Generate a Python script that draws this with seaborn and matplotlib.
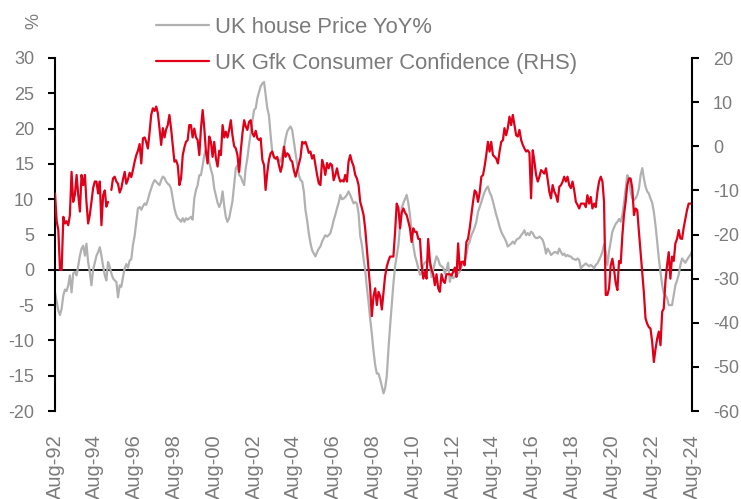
'''
UK house prices vs GfK consumer confidence, twin axis line chart
'''
import numpy as np
import pandas as pd
import seaborn as sns
import matplotlib
matplotlib.use('Agg')
import matplotlib.pyplot as plt
from matplotlib.lines import Line2D

sns.set_theme(style='white')
plt.rcParams['font.family'] = ['Liberation Sans', 'DejaVu Sans']
plt.rcParams['axes.unicode_minus'] = False

# monthly series, first value is Aug-92, one row per year (Aug..Jul)
start_month = '1992-08-01'

house_yoy = [
    -3.2, -4.5, -5.8, -6.4, -5.5, -3.6, -2.8, -3.0, -2.2, -0.8, -3.2, -0.5,
    -0.3, -0.8, 0.6, 2.0, 3.0, 3.4, 2.0, 3.7, 1.1, -0.3, -2.2, 0.0,
    1.0, 2.0, 2.5, 3.2, 2.0, 0.5, -0.8, -1.5, 1.1, 0.5, -0.5, -1.2,
    -1.5, -1.7, -3.9, -2.2, -2.4, -1.0, 0.2, 0.8, 0.3, 1.3, 1.5, 3.5,
    4.8, 6.8, 8.7, 8.9, 8.5, 9.0, 9.4, 9.2, 9.9, 10.8, 11.5, 12.2,
    12.7, 12.5, 12.2, 12.0, 12.7, 13.2, 13.0, 12.5, 12.2, 12.0, 11.5, 10.1,
    8.7, 7.8, 7.3, 7.1, 6.8, 7.3, 6.8, 7.3, 7.1, 7.3, 7.5, 7.1,
    10.1, 11.3, 12.0, 13.4, 13.4, 14.8, 16.3, 17.0, 16.3, 15.3, 14.2, 13.4,
    11.5, 10.5, 9.5, 8.9, 9.5, 11.1, 9.0, 7.5, 6.8, 7.3, 8.5, 9.7,
    12.0, 14.4, 14.8, 13.4, 13.2, 12.5, 12.0, 14.4, 15.8, 17.7, 19.3, 21.0,
    22.6, 22.9, 24.3, 25.2, 26.0, 26.4, 26.6, 24.8, 22.9, 21.9, 19.1, 16.7,
    15.8, 15.8, 15.6, 15.6, 15.3, 16.3, 17.2, 18.6, 19.6, 20.0, 20.3, 19.8,
    18.1, 16.5, 15.0, 13.4, 12.7, 12.5, 11.0, 8.5, 7.0, 5.2, 3.8, 2.8,
    2.3, 1.9, 2.5, 3.0, 3.3, 4.0, 4.5, 4.9, 4.7, 4.9, 5.2, 6.0,
    7.0, 7.8, 8.7, 9.5, 10.6, 10.0, 10.1, 10.3, 10.6, 11.1, 10.6, 10.0,
    9.4, 9.6, 9.4, 8.0, 4.8, 3.5, 1.5, 0.0, -2.5, -4.5, -7.0, -9.0,
    -11.5, -13.5, -14.7, -14.7, -15.5, -16.5, -17.5, -16.8, -15.1, -11.4, -8.0, -5.0,
    -2.0, 0.5, 2.0, 3.5, 6.3, 8.7, 9.5, 10.0, 10.6, 9.5, 7.8, 5.4,
    3.5, 2.0, 1.2, 0.2, -0.7, -0.5, 0.7, 1.0, 1.2, 1.5, 1.0, -1.0,
    0.0, 1.0, 1.9, 1.5, 0.7, 0.5, 0.3, -0.5, 0.0, 1.0, -1.7, -0.7,
    -1.2, -1.0, -0.7, -0.5, -0.2, 0.4, 1.2, 1.2, 2.1, 3.5, 4.0, 4.9,
    5.4, 6.0, 6.8, 8.2, 8.9, 9.6, 10.4, 11.0, 11.5, 11.8, 11.0, 10.5,
    9.7, 8.7, 7.8, 7.0, 6.1, 5.4, 4.9, 4.5, 4.0, 3.3, 3.5, 3.7,
    4.0, 3.7, 4.2, 4.4, 4.5, 4.9, 5.2, 5.6, 4.9, 5.2, 4.9, 5.4,
    5.2, 4.7, 4.5, 4.5, 4.7, 4.5, 4.2, 3.5, 2.3, 3.0, 2.6, 2.1,
    2.3, 2.5, 2.5, 2.3, 3.0, 2.5, 2.1, 2.3, 1.9, 2.1, 1.9, 1.9,
    1.6, 1.5, 1.4, 1.6, 1.4, 0.2, 0.5, 0.7, 0.9, 0.7, 0.5, 0.7,
    0.5, 0.2, 0.7, 0.9, 1.4, 1.9, 2.6, 3.6, 2.5, 0.7, 2.6, 4.0,
    5.4, 6.0, 6.5, 6.8, 7.2, 6.8, 7.8, 9.4, 11.5, 13.4, 13.0, 11.1,
    10.1, 9.9, 10.1, 10.6, 11.5, 13.4, 14.4, 13.0, 11.8, 11.1, 10.8, 10.1,
    9.5, 8.2, 6.3, 4.0, 1.6, -0.3, -2.2, -3.3, -3.6, -4.0, -5.0, -5.0,
    -5.0, -3.6, -2.2, -1.5, -0.7, 0.7, 1.6, 1.3, 1.0, 1.4, 1.8, 2.1,
    2.6,
]

gfk_conf = [
    -10.7, -17.0, -19.0, -28.0, -28.0, -16.0, -17.5, -17.0, -17.9, -15.6, -5.8, -12.6,
    -11.0, -6.5, -11.0, -14.8, -6.5, -8.8, -6.5, -12.6, -17.5, -15.6, -12.6, -9.5,
    -8.0, -8.0, -10.7, -8.0, -17.9, -11.1, -10.0, -13.7, -12.6, np.nan, -9.9, -7.3,
    -6.9, -8.0, -8.5, -10.5, -9.5, -7.5, -5.8, -8.5, -7.5, -6.0, -7.0, -5.4,
    -3.5, -2.0, -1.0, 0.5, -3.9, 1.8, 2.0, 1.0, -0.5, 3.0, 7.1, 8.6,
    8.0, 9.0, 7.5, 4.0, 0.3, 4.1, 2.0, 3.8, 4.8, 7.1, 4.0, 0.3,
    -3.5, -3.2, -4.3, -8.8, -7.3, -2.0, -0.2, 1.0, 1.4, 4.8, 4.8, 2.0,
    4.0, 2.0, 1.4, -2.0, 4.0, 8.2, 4.0, -1.2, -3.9, 2.2, 1.0, -2.4,
    1.0, -2.8, -4.6, -1.0, -2.0, 4.8, 2.0, 3.3, 2.0, 3.7, 5.9, 2.5,
    0.0, -0.5, -2.0, -5.8, -1.0, 3.0, 5.9, 4.5, 3.7, 5.5, 5.9, 3.0,
    2.2, 3.5, 1.8, 1.4, 1.8, -3.1, -4.3, -9.9, -6.0, -3.1, -1.6, -1.2,
    -2.4, -2.8, -2.4, -4.3, -5.8, -4.3, -0.1, -2.4, -1.6, -2.0, -3.1, -3.5,
    -5.5, -6.9, -5.5, -4.0, -2.5, 1.0, 0.6, 1.0, -0.1, -1.5, -1.2, -2.8,
    -2.0, -4.3, -6.5, -8.4, -8.8, -3.1, -4.5, -6.5, -3.8, -5.0, -3.9, -4.3,
    -7.7, -6.5, -5.0, -6.9, -8.0, -7.7, -8.0, -6.5, -8.0, -3.5, -2.0, -3.5,
    -4.5, -6.5, -7.3, -8.8, -12.6, -14.0, -15.6, -18.6, -23.2, -27.7, -32.2, -38.5,
    -34.0, -32.2, -36.0, -33.0, -34.0, -37.0, -33.0, -29.5, -27.3, -26.0, -25.0, -25.0,
    -25.0, -19.4, -13.0, -14.0, -18.6, -15.0, -14.1, -15.0, -15.6, -17.0, -18.6, -21.7,
    -18.6, -19.4, -19.4, -21.0, -21.0, -27.0, -30.0, -28.5, -30.0, -21.0, -26.0, -28.0,
    -29.0, -31.5, -29.0, -32.2, -33.0, -29.0, -30.5, -31.0, -29.0, -29.0, -29.0, -29.3,
    -28.5, -27.5, -29.6, -22.0, -28.0, -26.2, -26.2, -27.0, -21.7, -21.0, -18.6, -15.6,
    -12.6, -10.0, -10.5, -12.6, -10.5, -6.9, -6.5, -4.6, -2.0, 1.0, -1.2, 1.0,
    -2.0, -2.4, -2.8, -3.9, -1.2, 1.0, 1.4, 4.1, 2.5, 4.1, 6.7, 4.8,
    7.1, 4.8, 2.5, 2.2, 3.7, 1.4, 0.3, -0.5, -1.2, -0.9, -1.5, -11.8,
    -0.9, -3.5, -6.5, -8.0, -6.9, -5.4, -5.8, -6.2, -5.0, -7.5, -10.3, -11.8,
    -8.8, -10.3, -11.1, -12.6, -9.2, -8.8, -8.0, -6.9, -8.0, -6.9, -8.8, -9.5,
    -8.0, -10.0, -12.6, -13.3, -14.1, -13.0, -13.0, -13.0, -13.8, -11.1, -13.0, -11.5,
    -14.1, -13.0, -13.8, -10.3, -8.0, -6.9, -8.0, -12.6, -33.7, -33.7, -32.2, -27.0,
    -25.5, -28.0, -31.0, -32.6, -26.0, -26.5, -20.1, -15.6, -12.6, -8.8, -7.3, -7.3,
    -9.5, -15.6, -14.1, -14.5, -19.4, -24.0, -28.5, -33.0, -39.0, -40.2, -41.0, -41.3,
    -44.3, -48.9, -46.0, -43.6, -42.0, -45.1, -37.5, -36.8, -30.7, -27.0, -24.0, -30.0,
    -25.0, -26.0, -22.0, -21.0, -19.0, -20.9, -21.0, -18.5, -16.4, -14.5, -13.0, -13.0,
    -13.0,
]

left_ticks = [-20, -15, -10, -5, 0, 5, 10, 15, 20, 25, 30]
right_ticks = [-60, -50, -40, -30, -20, -10, 0, 10, 20]
label_house = 'UK house Price YoY%'
label_gfk = 'UK Gfk Consumer Confidence (RHS)'

GREY = '#b1b1b1'
RED = '#e1001a'
TXT = '#7b7b7b'

df = pd.DataFrame({
    'date': pd.date_range(start_month, periods=len(house_yoy), freq='MS'),
    'house': house_yoy,
    'gfk': gfk_conf,
})
# keep the break in the red line where a month is missing
df['seg'] = df['gfk'].isna().cumsum()
red = df.dropna(subset=['gfk'])

fig = plt.figure(figsize=(7.41, 4.99), dpi=100)
ax = fig.add_axes([55 / 741, 1 - 411 / 499, 637 / 741, 353 / 499])

ax.axhline(0, color='black', lw=1.3, zorder=1)
sns.lineplot(data=df, x='date', y='house', color=GREY, lw=1.6, ax=ax, zorder=2)

ax2 = ax.twinx()
sns.lineplot(data=red, x='date', y='gfk', units='seg', estimator=None,
             color=RED, lw=1.6, ax=ax2)

ax.set_ylim(-20, 30)
ax2.set_ylim(-60, 20)
ax.set_yticks(left_ticks)
ax2.set_yticks(right_ticks)
ax.set_xlim(df['date'].iloc[0], df['date'].iloc[-1])

tick_dates = df['date'].iloc[::24]
ax.set_xticks(tick_dates)
ax.set_xticklabels([d.strftime('%b-%y') for d in tick_dates], rotation=90)

for a in (ax, ax2):
    a.set_xlabel('')
    a.set_ylabel('')
    for s in a.spines.values():
        s.set_visible(False)
ax.spines['left'].set_visible(True)
ax.spines['left'].set_color('black')
ax.spines['left'].set_linewidth(1.5)
ax2.spines['right'].set_visible(True)
ax2.spines['right'].set_color('black')
ax2.spines['right'].set_linewidth(1.5)

ax.tick_params(axis='y', left=True, direction='out', length=5, width=1.5,
               color='black', labelcolor=TXT, labelsize=13, pad=10)
ax2.tick_params(axis='y', right=True, direction='out', length=5, width=1.5,
                color='black', labelcolor=TXT, labelsize=13, pad=10)
ax.tick_params(axis='x', bottom=False, length=0, labelcolor=TXT,
               labelsize=14.5, pad=17)
ax.grid(False)
ax2.grid(False)

handles = [Line2D([], [], color=GREY, lw=1.6), Line2D([], [], color=RED, lw=1.6)]
fig.legend(handles, [label_house, label_gfk], loc='upper left',
           bbox_to_anchor=(156 / 741, 1 - 17 / 499), frameon=False,
           fontsize=15.8, handlelength=2.4, handletextpad=0.3,
           labelspacing=0.68, borderpad=0, borderaxespad=0, labelcolor=TXT)

fig.text(34 / 741, 1 - 21 / 499, '%', rotation=90, color=TXT, fontsize=13,
         ha='center', va='center')

fig.savefig('out.png', dpi=100)
